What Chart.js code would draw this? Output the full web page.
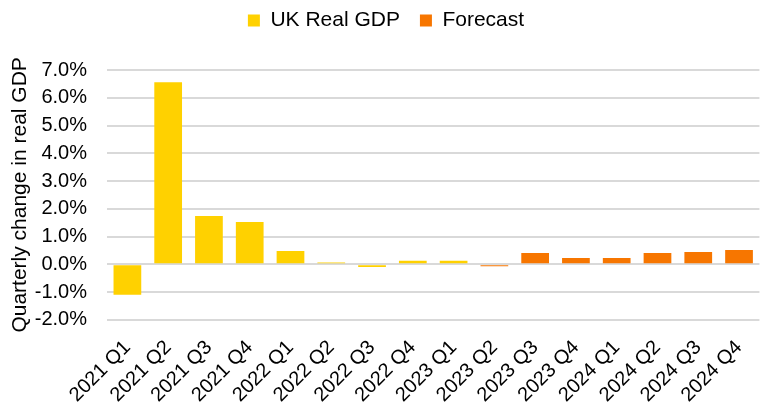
<!DOCTYPE html>
<html>
<head>
<meta charset="utf-8">
<script src="https://cdn.jsdelivr.net/npm/chart.js@4/dist/chart.umd.min.js"></script>
<style>
  html, body { margin: 0; padding: 0; background: #fff; }
  #wrap { width: 764px; height: 410px; }
</style>
</head>
<body>
<div id="wrap"><canvas id="gdp-chart"></canvas></div>
<script>
var quarters = ['2021 Q1','2021 Q2','2021 Q3','2021 Q4','2022 Q1','2022 Q2','2022 Q3','2022 Q4',
                '2023 Q1','2023 Q2','2023 Q3','2023 Q4','2024 Q1','2024 Q2','2024 Q3','2024 Q4'];
// actual quarterly growth (%)
var realGdp = [-1.1, 6.56, 1.74, 1.52, 0.48, 0.06, -0.1, 0.13, 0.13, null, null, null, null, null, null, null];
// forecast (%)
var forecast = [null, null, null, null, null, null, null, null, null, -0.07, 0.41, 0.23, 0.23, 0.41, 0.44, 0.51];
var yTicks = [-2, -1, 0, 1, 2, 3, 4, 5, 6, 7];

var font = 'Liberation Sans, Arial, sans-serif';
Chart.defaults.font.family = font;
Chart.defaults.color = '#000';

// give the legend some extra room below it
var legendGap = {
  id: 'legendGap',
  beforeInit: function (chart) {
    var fitOrig = chart.legend.fit;
    chart.legend.fit = function () {
      fitOrig.bind(chart.legend)();
      this.height += 29;
    };
  }
};

var ctx = document.getElementById('gdp-chart').getContext('2d');
var gdpChart = new Chart(ctx, {
  type: 'bar',
  data: {
    labels: quarters,
    datasets: [{
      label: 'UK Real GDP',
      data: realGdp,
      backgroundColor: '#FFD100',
      barPercentage: 1,
      categoryPercentage: 0.68
    }, {
      label: 'Forecast',
      data: forecast,
      backgroundColor: '#F77600',
      barPercentage: 1,
      categoryPercentage: 0.68
    }]
  },
  plugins: [legendGap],
  options: {
    responsive: true,
    maintainAspectRatio: false,
    animation: false,
    layout: { padding: { top: -10, right: 0, left: 8, bottom: -5 } },
    plugins: {
      legend: {
        position: 'top',
        labels: {
          boxWidth: 12,
          boxHeight: 12,
          padding: 20,
          font: { size: 21 },
          color: '#000'
        }
      },
      tooltip: { enabled: false }
    },
    scales: {
      x: {
        stacked: true,
        grid: { display: false },
        border: { display: false },
        ticks: {
          minRotation: 45,
          maxRotation: 45,
          autoSkip: false,
          padding: 8,
          font: { size: 20 },
          color: '#000'
        }
      },
      y: {
        min: -2,
        max: 7,
        afterBuildTicks: function (axis) {
          axis.ticks = yTicks.map(function (v) { return { value: v }; });
        },
        afterFit: function (axis) { axis.width = 99; },
        grid: { color: '#D9D9D9', lineWidth: 2, drawTicks: false },
        border: { display: false },
        title: {
          display: true,
          text: 'Quarterly change in real GDP',
          font: { size: 21 },
          color: '#000',
          padding: { top: 0, bottom: 2 }
        },
        ticks: {
          autoSkip: false,
          padding: 20,
          font: { size: 20 },
          color: '#000',
          callback: function (v) { return v.toFixed(1) + '%'; }
        }
      }
    }
  }
});
</script>
</body>
</html>
